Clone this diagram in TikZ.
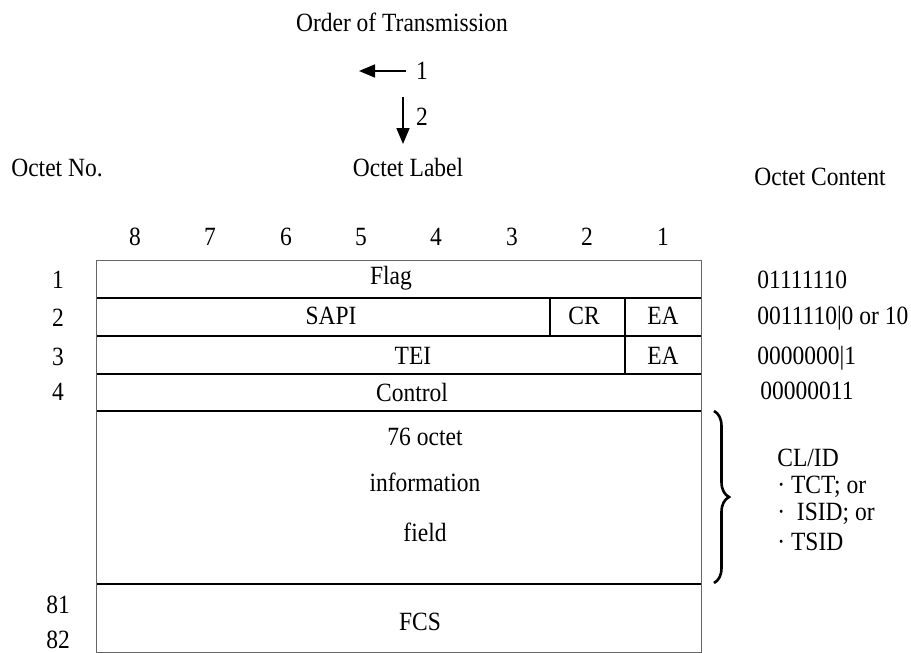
\documentclass[tikz,border=0pt]{standalone}
\usepackage{fontspec}
\setmainfont{Liberation Serif}
\usetikzlibrary{arrows.meta,decorations.pathreplacing}
\newcommand\vstretch[1]{\scalebox{1}[1.12]{#1}}
\begin{document}
\begin{tikzpicture}[x=0.5pt,y=-0.5pt,
  txt/.style={inner sep=0pt,font=\fontsize{11.75}{14}\selectfont},
  ltxt/.style={txt,anchor=west},
  hline/.style={line width=0.65pt,black},
  vline/.style={line width=0.5pt,black!60},
  sepline/.style={line width=0.6pt,black},
  arr/.style={line width=0.85pt,-{Triangle[length=8pt,width=6.5pt]}}]
\useasboundingbox (0,0) rectangle (911,653);
% headings
\node[txt] (order) at (402,22) {\vstretch{Order of Transmission}};
\coordinate (a1s) at (406,71);
\coordinate (a1e) at (359,71);
\draw[arr] (a1s) -- (a1e);
\node[txt] (one) at (422,71) {\vstretch{1}};
\coordinate (a2s) at (403,97);
\coordinate (a2e) at (403,144);
\draw[arr] (a2s) -- (a2e);
\node[txt] (two) at (422,117) {\vstretch{2}};
\node[txt] (octno) at (57,168) {\vstretch{Octet No.}};
\node[txt] (octlabel) at (408,167) {\vstretch{Octet Label}};
\node[txt] (octcontent) at (820,177) {\vstretch{Octet Content}};
% bit numbers
\foreach \b/\x in {8/135,7/210,6/286,5/361,4/436,3/512,2/587,1/663}
  \node[txt] (bit\b) at (\x,237) {\vstretch{\b}};
% frame
\draw[hline] (96,298) -- (701,298);
\draw[hline] (96,336) -- (701,336);
\draw[hline] (96,374) -- (701,374);
\draw[hline] (96,411) -- (701,411);
\draw[hline] (96,584) -- (701,584);
\draw[sepline] (550,298) -- (550,336);
\draw[sepline] (625,298) -- (625,374);
\draw[vline] (96,260) rectangle (701,652);
% field labels
\node[txt] (flag) at (391,278) {\vstretch{Flag}};
\node[txt] (sapi) at (331,316) {\vstretch{SAPI}};
\node[txt] (cr) at (584,316) {\vstretch{CR}};
\node[txt] (ea1) at (663,316) {\vstretch{EA}};
\node[txt] (tei) at (413,356) {\vstretch{TEI}};
\node[txt] (ea2) at (663,356) {\vstretch{EA}};
\node[txt] (control) at (412,392) {\vstretch{Control}};
\node[txt] (info1) at (425,437) {\vstretch{76 octet}};
\node[txt] (info2) at (425,482) {\vstretch{information}};
\node[txt] (info3) at (425,532) {\vstretch{field}};
\node[txt] (fcs) at (420,622) {\vstretch{FCS}};
% octet numbers
\node[txt] (n1) at (58,280) {\vstretch{1}};
\node[txt] (n2) at (58,318) {\vstretch{2}};
\node[txt] (n3) at (58,357) {\vstretch{3}};
\node[txt] (n4) at (58,392) {\vstretch{4}};
\node[txt] (n81) at (58,605) {\vstretch{81}};
\node[txt] (n82) at (58,640) {\vstretch{82}};
% contents
\node[ltxt] (c1) at (757,280) {\vstretch{01111110}};
\node[ltxt] (c2) at (757,318) {\vstretch{0011110|0 or 10}};
\node[ltxt] (c3) at (757,358) {\vstretch{0000000|1}};
\node[ltxt] (c4) at (760,391) {\vstretch{00000011}};
% brace
\coordinate (bt) at (714,411);
\coordinate (bb) at (714,583);
\draw[line width=1.3pt,decorate,decoration={brace,amplitude=7.5pt}] (bt) -- (bb);
\node[ltxt] (cl1) at (777,458) {\vstretch{CL/ID}};
\node[ltxt] (cl2) at (777,487) {\vstretch{· TCT; or}};
\node[ltxt] (cl3) at (777,514) {\vstretch{·~~ISID; or}};
\node[ltxt] (cl4) at (777,542) {\vstretch{· TSID}};
\end{tikzpicture}
\end{document}
